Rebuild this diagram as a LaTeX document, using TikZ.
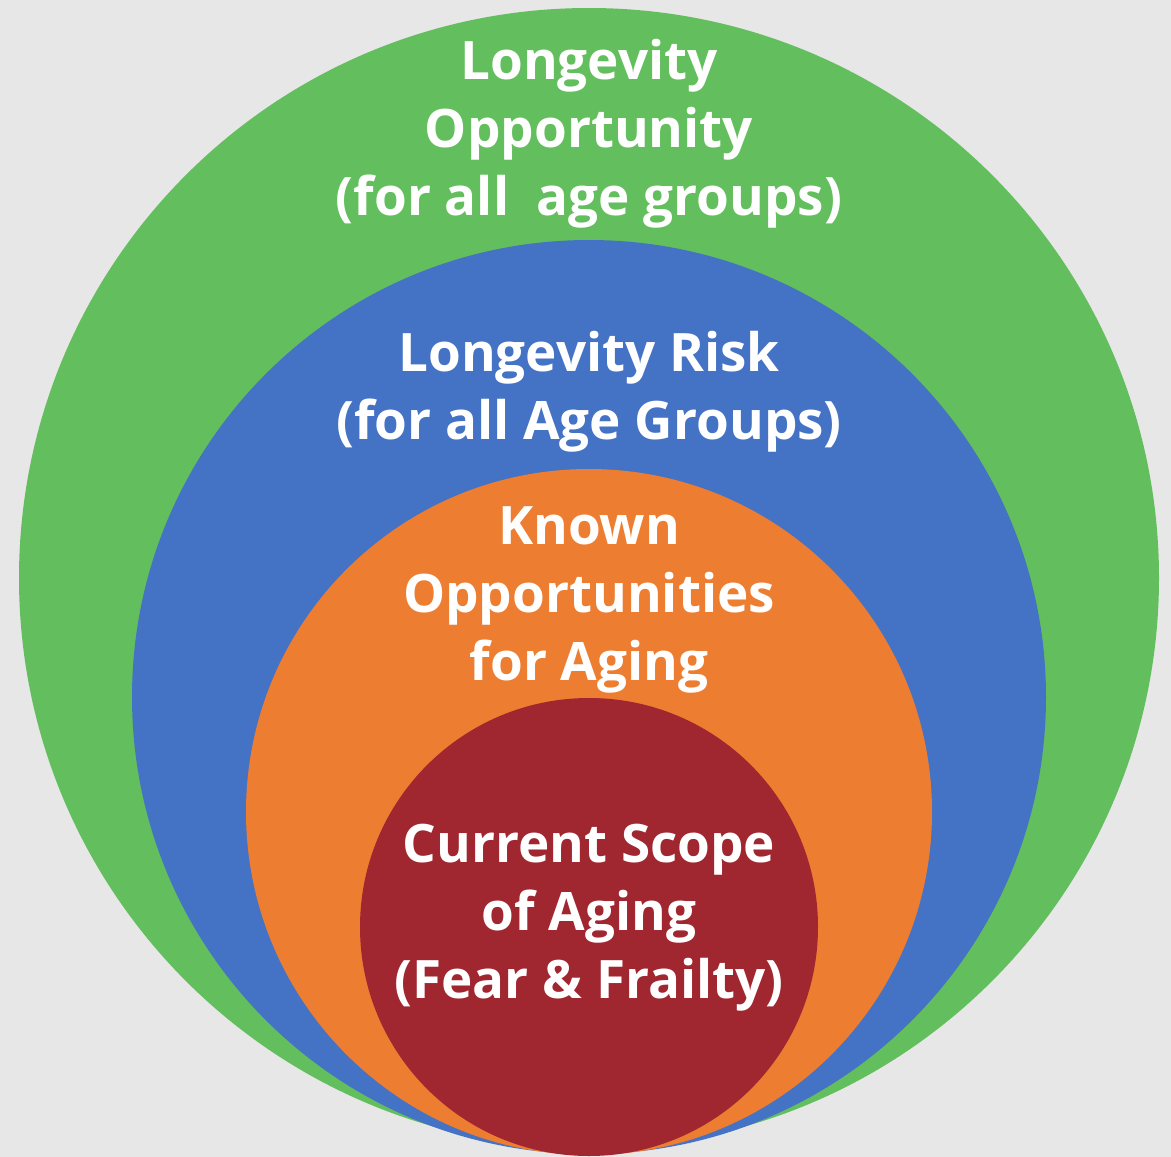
\documentclass[tikz,border=0pt]{standalone}
\usepackage{fontspec}
\setmainfont{Open Sans}
\definecolor{bgGray}{RGB}{231,231,231}
\definecolor{ringGreen}{RGB}{99,190,93}
\definecolor{ringBlue}{RGB}{68,114,196}
\definecolor{ringOrange}{RGB}{237,125,49}
\definecolor{ringRed}{RGB}{160,38,48}
\begin{document}
\begin{tikzpicture}[x=1pt,y=-1pt,
  label/.style={text=white,align=center,font=\fontsize{53}{68}\selectfont\bfseries,inner sep=0pt}]
  % background
  \fill[bgGray] (0,0) rectangle (1171,1157);
  \useasboundingbox (0,0) rectangle (1171,1157);
  % nested circles, all touching near the bottom
  \fill[ringGreen]  (589,578) circle[radius=570];
  \fill[ringBlue]   (589,697) circle[radius=457];
  \fill[ringOrange] (589,812) circle[radius=343];
  \fill[ringRed]    (589,927) circle[radius=229];
  % labels
  \node[label] (opp) at (589,134) {Longevity\\Opportunity\\(for all\ \ age groups)};
  \node[label] (risk) at (589,392) {Longevity Risk\\(for all Age Groups)};
  \node[label] (known) at (589,600) {Known\\Opportunities\\for Aging};
  \node[label] (scope) at (589,918) {Current Scope\\of Aging\\(Fear \& Frailty)};
\end{tikzpicture}
\end{document}
